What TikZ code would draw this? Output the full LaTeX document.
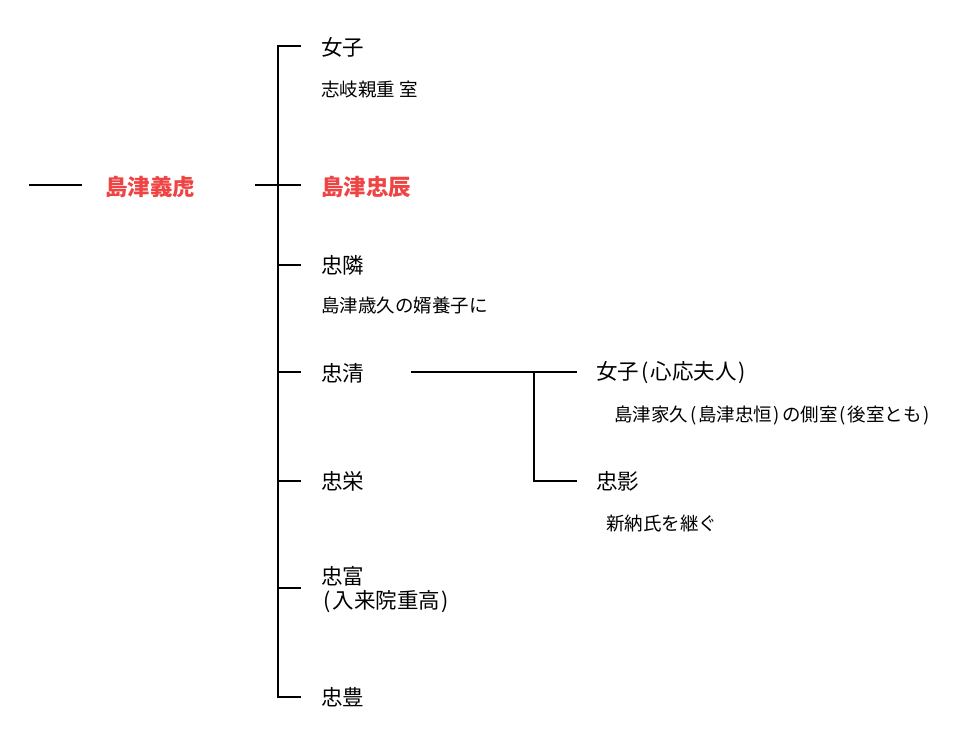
\documentclass[tikz,border=0pt]{standalone}
\usepackage{fontspec}
\newfontfamily\jp{Noto Sans CJK JP}
\definecolor{hired}{HTML}{EE4444}
\newcommand{\lp}{\hspace{0.12em}(\hspace{0.08em}}
\newcommand{\rp}{\hspace{0.08em})\hspace{0.12em}}
\begin{document}
\begin{tikzpicture}[x=1pt,y=-1pt,
  cline/.style={line width=1.6pt,black},
  pname/.style={anchor=west,inner sep=0pt,font=\jp\fontsize{21.5}{24}\selectfont},
  pnote/.style={anchor=west,inner sep=0pt,font=\jp\fontsize{18.5}{21}\selectfont},
  phname/.style={anchor=west,inner sep=0pt,text=hired,font=\jp\bfseries\fontsize{22.5}{24}\selectfont}]
\useasboundingbox (0,0) rectangle (962,735);
% nodes
\node[phname] (yoshitora) at (105,187) {島津義虎};
\node[pname] (nyoshi1) at (321,47) {女子};
\node[pnote] (n1) at (321,89) {志岐親重 室};
\node[phname] (tadatoki) at (321,187) {島津忠辰};
\node[pname] (tadachika) at (321,265) {忠隣};
\node[pnote] (n2) at (321,305) {島津歳久の婿養子に};
\node[pname] (tadakiyo) at (321,373) {忠清};
\node[pname] (tadahide) at (321,481) {忠栄};
\node[pname,align=left] (tadatomi) at (321,590) {忠富\\\lp 入来院重高\rp};
\node[pname] (tadatoyo) at (321,697) {忠豊};
\node[pname] (nyoshi2) at (596,373) {女子\lp 心応夫人\rp};
\node[pnote] (n3) at (614,416) {島津家久\lp 島津忠恒\rp の側室\lp 後室とも\rp};
\node[pname] (tadakage) at (596,481) {忠影};
\node[pnote] (n4) at (606,523) {新納氏を継ぐ};
% coordinates
\coordinate (l0) at (29,185);
\coordinate (l1) at (82,185);
\coordinate (r0) at (255,185);
\foreach \y/\n in {46/a,185/b,265/c,372/d,481/e,588/f,697/g}{
  \coordinate (s\n) at (278,\y);
  \coordinate (e\n) at (301,\y);
}
\coordinate (k0) at (411,372);
\coordinate (k1) at (534,372);
\coordinate (k2) at (534,481);
\coordinate (k3) at (577,372);
\coordinate (k4) at (577,481);
% lines
\draw[cline] (l0) -- (l1);
\draw[cline] (r0) -- (eb);
\draw[cline] (ea) -- (sa) -- (sg) -- (eg);
\foreach \n in {c,d,e,f}{\draw[cline] (s\n) -- (e\n);}
\draw[cline] (k0) -- (k3);
\draw[cline] (k1) -- (k2) -- (k4);
\end{tikzpicture}
\end{document}
